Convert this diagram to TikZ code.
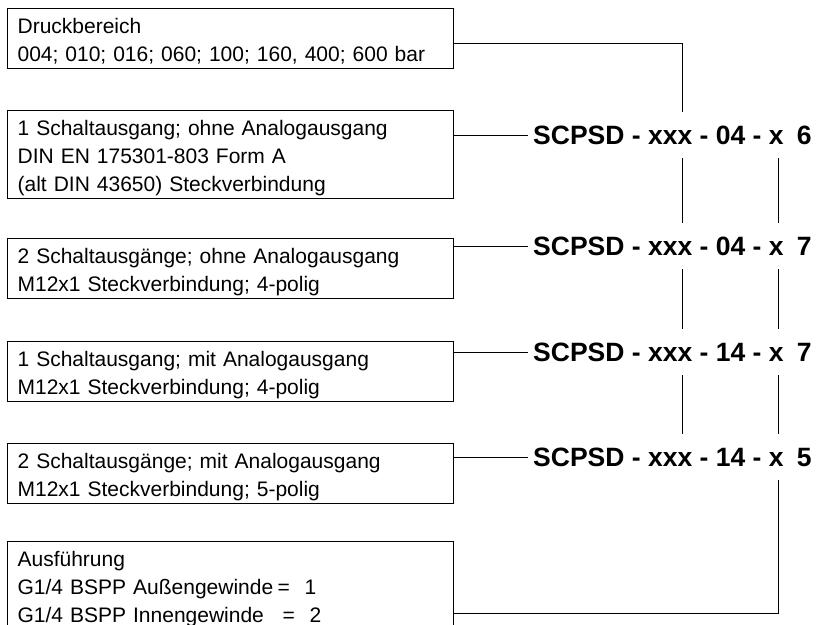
\documentclass[tikz,border=0pt]{standalone}
\usepackage{fontspec}
\setmainfont{Liberation Sans}

% one line of a box, fixed height and depth
\newcommand\zeile{\rule[-5pt]{0pt}{27pt}}

\begin{document}
\begin{tikzpicture}[x=1pt, y=-1pt,
  box/.style={draw, line width=1.2pt, anchor=north west, text width=426pt, align=left,
    inner xsep=10pt, inner ysep=2.5pt, font=\fontsize{21}{25.5}\selectfont},
  code/.style={anchor=west, inner sep=0pt, minimum height=46pt, font=\fontsize{26.5}{30}\selectfont\bfseries},
  link/.style={draw, line width=1pt}]
\useasboundingbox (0,0) rectangle (816,624);
\clip (0,0) rectangle (816,624);

% boxes on the left
\node[box] (druck) at (7,8) {\zeile Druckbereich\\
  \zeile 004; 010; 016; 060; 100; 160, 400; 600 bar};
\node[box] (sa1) at (7,110) {\zeile 1 Schaltausgang; ohne Analogausgang\\
  \zeile DIN EN 175301-803 Form A\\
  \zeile (alt DIN 43650) Steckverbindung};
\node[box] (sa2) at (7,238) {\zeile 2 Schaltausgänge; ohne Analogausgang\\
  \zeile M12x1 Steckverbindung; 4-polig};
\node[box] (sa3) at (7,341) {\zeile 1 Schaltausgang; mit Analogausgang\\
  \zeile M12x1 Steckverbindung; 4-polig};
\node[box] (sa4) at (7,443) {\zeile 2 Schaltausgänge; mit Analogausgang\\
  \zeile M12x1 Steckverbindung; 5-polig};
\node[box] (ausf) at (7,541) {\zeile Ausführung\\
  \zeile \makebox[260pt][l]{G1/4 BSPP Außengewinde}\makebox[27pt][l]{=}1\\
  \zeile \makebox[265pt][l]{G1/4 BSPP Innengewinde}\makebox[27pt][l]{=}2};

% type codes
\node[code] (c1) at (533,135) {SCPSD - xxx - 04 - x\hspace{0.5em}6};
\node[code] (c2) at (533,246) {SCPSD - xxx - 04 - x\hspace{0.5em}7};
\node[code] (c3) at (533,352) {SCPSD - xxx - 14 - x\hspace{0.5em}7};
\node[code] (c4) at (533,457) {SCPSD - xxx - 14 - x\hspace{0.5em}5};

\coordinate (colA) at (682,43);
\coordinate (colB) at (778,613);

% connectors
\draw[link] (druck.east |- colA) -- (colA) -- (c1.north -| colA);
\draw[link] (sa1.east |- c1.west) -- ([xshift=-5pt]c1.west);
\draw[link] (sa2.east |- c2.west) -- ([xshift=-5pt]c2.west);
\draw[link] (sa3.east |- c3.west) -- ([xshift=-5pt]c3.west);
\draw[link] (sa4.east |- c4.west) -- ([xshift=-5pt]c4.west);
\draw[link] (c1.south -| colA) -- (c2.north -| colA);
\draw[link] (c2.south -| colA) -- (c3.north -| colA);
\draw[link] (c3.south -| colA) -- (c4.north -| colA);
\draw[link] (c1.south -| colB) -- (c2.north -| colB);
\draw[link] (c2.south -| colB) -- (c3.north -| colB);
\draw[link] (c3.south -| colB) -- (c4.north -| colB);
\draw[link] (c4.south -| colB) -- (colB) -- (ausf.east |- colB);
\end{tikzpicture}
\end{document}
